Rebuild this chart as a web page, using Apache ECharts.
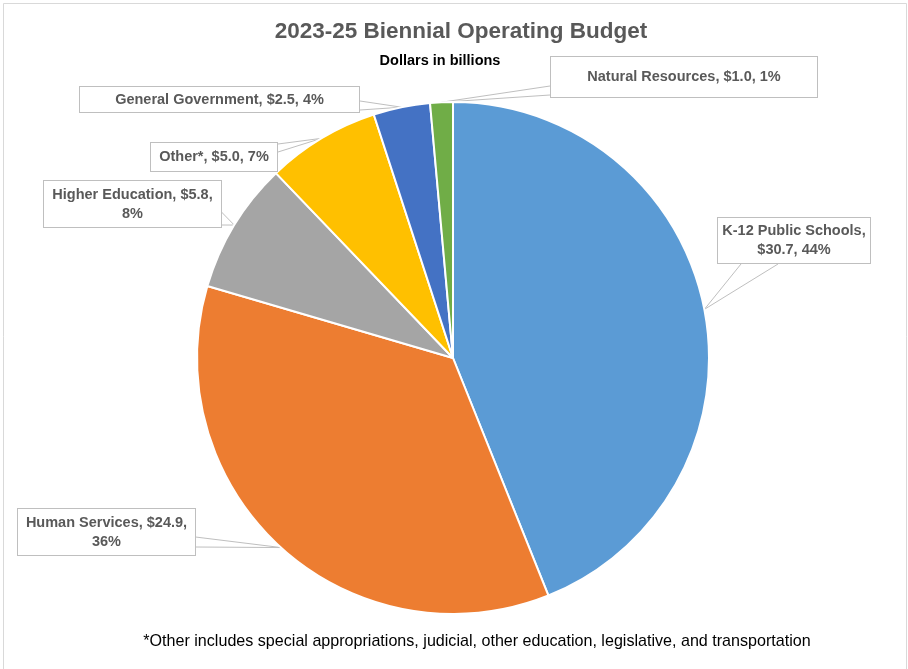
<!DOCTYPE html>
<html>
<head>
<meta charset="utf-8">
<script src="https://cdn.jsdelivr.net/npm/echarts@6/dist/echarts.min.js"></script>
<style>
  html, body { margin: 0; padding: 0; background: #fff; }
  #chart { width: 908px; height: 669px; }
</style>
</head>
<body>
<div id="chart"></div>
<script>
// Budget areas, clockwise from 12 o'clock
const categories = [
  'K-12 Public Schools',
  'Human Services',
  'Higher Education',
  'Other*',
  'General Government',
  'Natural Resources'
];
// Dollars in billions
const values = [30.7, 24.9, 5.8, 5.0, 2.5, 1.0];
const colors = ['#5B9BD5', '#ED7D31', '#A5A5A5', '#FFC000', '#4472C4', '#70AD47'];
// where each label wraps onto a second line: after the name, after the value, or not at all
const wrapAfter = ['name', 'value', 'value', 'none', 'none', 'none'];

// callout boxes: centre, size, and the two base points of the pointer (offsets from centre)
const labelCentres = [
  [794, 240.5], [106.5, 532], [132.5, 204], [214, 157], [219.5, 99.5], [684, 77]
];
const labelBoxes = [
  [152, 45], [177, 46], [177, 46], [126, 28], [279, 25], [266, 40]
];
const pointerBase = [
  [[-53, 23.5], [-16, 23.5]],
  [[89, 5], [89, 15]],
  [[89, 8], [89, 21]],
  [[64, -13], [64, -5]],
  [[140.5, 1.5], [140.5, 10.5]],
  [[-134, 9], [-134, 18]]
];

const FONT = 'Liberation Sans';

const chart = echarts.init(document.getElementById('chart'), null, { renderer: 'canvas' });

const data = categories.map((name, i) => ({
  name: name,
  value: values[i],
  itemStyle: { color: colors[i] },
  label: { width: labelBoxes[i][0], height: labelBoxes[i][1] }
}));

chart.setOption({
  animation: false,
  backgroundColor: '#fff',
  title: [
    {
      text: '2023-25 Biennial Operating Budget',
      left: 456, top: 15, textAlign: 'center',
      textStyle: { fontFamily: FONT, fontSize: 22.5, fontWeight: 'bold', color: '#595959' }
    },
    {
      text: 'Dollars in billions',
      left: 435, top: 48, textAlign: 'center',
      textStyle: { fontFamily: FONT, fontSize: 14.5, fontWeight: 'bold', color: '#000' }
    },
    {
      text: '*Other includes special appropriations, judicial, other education, legislative, and transportation',
      left: 472, top: 629, textAlign: 'center',
      textStyle: { fontFamily: FONT, fontSize: 16.1, fontWeight: 'normal', color: '#000' }
    }
  ],
  graphic: [{
    type: 'rect',
    shape: { x: 3.5, y: 3.5, width: 903, height: 680 },
    style: { fill: null, stroke: '#d9d9d9', lineWidth: 1 },
    silent: true
  }],
  series: [{
    type: 'pie',
    center: [453, 358],
    radius: [0, 256],
    startAngle: 90,
    clockwise: true,
    percentPrecision: 0,
    data: data,
    itemStyle: { borderColor: '#fff', borderWidth: 2 },
    label: {
      show: true,
      position: 'outside',
      fontFamily: FONT,
      fontSize: 14.5,
      fontWeight: 'bold',
      color: '#595959',
      lineHeight: 19,
      align: 'center',
      verticalAlign: 'middle',
      padding: 0,
      backgroundColor: '#fff',
      borderColor: '#bfbfbf',
      borderWidth: 1,
      formatter: function (p) {
        const i = p.dataIndex;
        const head = p.name + ',';
        const val = '$' + p.value.toFixed(1) + ',';
        const pct = Math.round(p.percent) + '%';
        if (wrapAfter[i] === 'name') return head + '\n' + val + ' ' + pct;
        if (wrapAfter[i] === 'value') return head + ' ' + val + '\n' + pct;
        return head + ' ' + val + ' ' + pct;
      }
    },
    labelLine: {
      show: true,
      length: 10,
      length2: 10,
      lineStyle: { color: '#bfbfbf', width: 1 }
    },
    labelLayout: function (params) {
      const i = params.dataIndex;
      const c = labelCentres[i];
      const out = { x: c[0], y: c[1], align: 'center', verticalAlign: 'middle' };
      // pointer: box edge -> slice anchor -> box edge
      if (params.labelLinePoints && params.labelLinePoints.length) {
        const tip = params.labelLinePoints[0];
        const a = pointerBase[i][0], b = pointerBase[i][1];
        out.labelLinePoints = [
          [c[0] + a[0], c[1] + a[1]],
          [tip[0], tip[1]],
          [c[0] + b[0], c[1] + b[1]]
        ];
      }
      return out;
    }
  }]
});
</script>
</body>
</html>
